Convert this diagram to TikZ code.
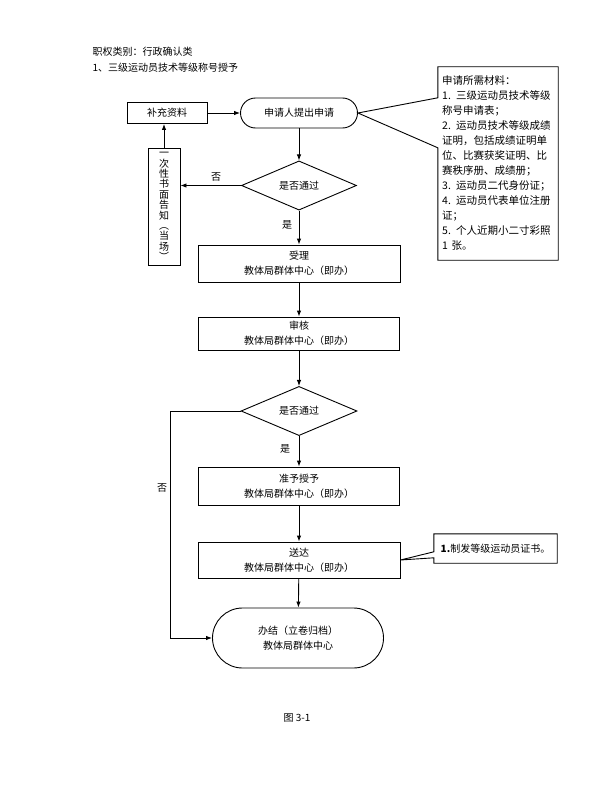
\documentclass[tikz,border=0pt]{standalone}
\usepackage{fontspec}
\setmainfont{Noto Sans CJK SC}
\usetikzlibrary{shapes.geometric,arrows.meta}

\begin{document}
\begin{tikzpicture}[x=1pt,y=-1pt]

            \tikzset{box/.style={draw, line width=0.9pt, inner sep=0pt, align=center, font=\fontsize{10}{15}\selectfont},
                     term/.style={box, rounded corners=#1},
                     check/.style={draw, line width=0.9pt, diamond, inner sep=0pt, font=\fontsize{10}{12}\selectfont},
                     arr/.style={line width=0.9pt, -{Latex[length=6pt,width=4.5pt]}},
                     lbl/.style={font=\fontsize{10}{12}\selectfont}}

            \useasboundingbox (0,0) rectangle (600,800);

            \node [lbl, anchor=west] (kind) at (89,52) {职权类别：行政确认类};
            \node [lbl, anchor=west] (title) at (89,68) {1、三级运动员技术等级称号授予};

            \node [box, minimum width=80, minimum height=21] (supply) at (167,113) {补充资料};
            \node [term=15pt, minimum width=117, minimum height=30] (apply) at (299,113) {申请人提出申请};
            \node [check, minimum width=115, minimum height=45] (pass1) at (299,185.5) {是否通过};
            \node [box, minimum width=32, minimum height=117, font=\fontsize{10}{10.4}\selectfont] (notice) at (164,206.5)
                  {一\\次\\性\\书\\面\\告\\知\\︵\\当\\场\\︶};
            \node [box, minimum width=202, minimum height=37] (accept) at (299,263.5) {受理\\教体局群体中心（即办）};
            \node [box, minimum width=201, minimum height=33] (review) at (299,333.5) {审核\\教体局群体中心（即办）};
            \node [check, minimum width=116, minimum height=46] (pass2) at (299,411) {是否通过};
            \node [box, minimum width=201, minimum height=38] (grant) at (299,486) {准予授予\\教体局群体中心（即办）};
            \node [box, minimum width=202, minimum height=36] (deliver) at (299,560) {送达\\教体局群体中心（即办）};
            \node [term=30pt, minimum width=171, minimum height=60] (finish) at (298,638) {办结（立卷归档）\\教体局群体中心};

            % callouts
            \node [inner sep=0pt, minimum width=120, minimum height=193] (docs) at (498,163.5) {};
            \node [anchor=north west, inner sep=0pt, text width=116, align=left, font=\fontsize{10.5}{15}\selectfont] (doctext) at (442,75)
                  {申请所需材料：\\1. 三级运动员技术等级\\称号申请表；\\2. 运动员技术等级成绩\\证明，包括成绩证明单\\位、比赛获奖证明、比\\赛秩序册、成绩册；\\3. 运动员二代身份证；\\4. 运动员代表单位注册\\证；\\5. 个人近期小二寸彩照\\1 张。};
            \draw [line width=0.9pt] (docs.north west) -- (docs.north east) -- (docs.south east) -- (docs.south west)
                  -- ([yshift=-81pt]docs.north west) -- (apply.east) -- ([yshift=-31pt]docs.north west) -- cycle;

            \node [inner sep=0pt, minimum width=123, minimum height=29] (cert) at (495.5,548.5) {};
            \node [lbl] (certtext) at (cert) {\textbf{1.}制发等级运动员证书。};
            \draw [line width=0.9pt] (cert.north west) -- (cert.north east) -- (cert.south east) -- (cert.south west)
                  -- ([yshift=-24pt]cert.north west) -- (deliver.east) -- ([yshift=-18pt]cert.north west) -- cycle;

            \draw [arr] (supply) -- (apply);
            \draw [arr] (apply) -- (pass1);
            \draw [arr] (pass1.west) -- (pass1.west -| notice.east);
            \draw [arr] (notice.north) -- (notice.north |- supply.south);
            \draw [arr] (pass1) -- (accept);
            \draw [arr] (accept) -- (review);
            \draw [arr] (review) -- (pass2);
            \draw [arr] (pass2) -- (grant);
            \draw [arr] (grant) -- (deliver);
            \draw [arr] (deliver) -- (finish);
            \coordinate (back) at (170,411);
            \draw [arr] (pass2.west) -- (back) |- (finish.west);

            \node [lbl] (no1) at (216,177) {否};
            \node [lbl] (yes1) at (287,225) {是};
            \node [lbl] (yes2) at (285,449) {是};
            \node [lbl] (no2) at (162,488) {否};

            \node [lbl] (fig) at (297,718) {图 3-1};

        \end{tikzpicture}
\end{document}
